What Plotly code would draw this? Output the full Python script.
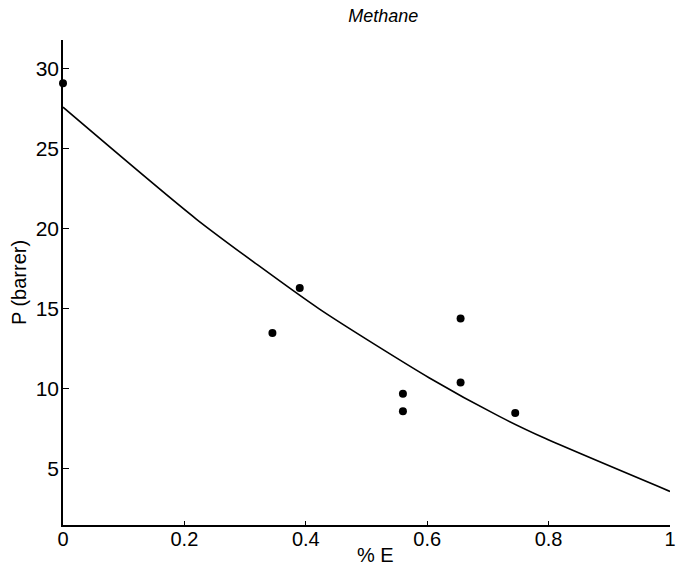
import plotly.graph_objects as go

# Measured data points (% E, P in barrer)
pts_x = [0.0, 0.345, 0.39, 0.56, 0.56, 0.655, 0.655, 0.745]
pts_y = [29.1, 13.5, 16.3, 9.7, 8.6, 14.4, 10.4, 8.5]

# Fitted curve
fit_x = [0.0, 0.22, 0.422, 0.603, 0.718, 0.795, 1.0]
fit_y = [27.6, 20.6, 15.0, 10.7, 8.3, 6.9, 3.6]

x_ticks = [0, 0.2, 0.4, 0.6, 0.8, 1]
x_tick_text = ["0", "0.2", "0.4", "0.6", "0.8", "1"]
y_ticks = [5, 10, 15, 20, 25, 30]

font_family = "Liberation Sans, Arial, sans-serif"

fig = go.Figure()
fig.add_trace(go.Scatter(x=fit_x, y=fit_y, mode="lines",
                         line=dict(color="black", width=1.6, shape="spline", smoothing=0.6),
                         showlegend=False, hoverinfo="skip"))
fig.add_trace(go.Scatter(x=pts_x, y=pts_y, mode="markers",
                         marker=dict(color="black", size=8),
                         cliponaxis=False, showlegend=False))

fig.update_layout(
    width=688, height=572,
    margin=dict(l=63, r=16, t=40, b=47),
    paper_bgcolor="white", plot_bgcolor="white",
    font=dict(family=font_family, color="black"),
    title=dict(text="Methane", x=0.557, xanchor="center", y=0.972, yanchor="middle",
               font=dict(size=18, style="italic", family=font_family)),
    annotations=[dict(text="% E", xref="paper", yref="paper", x=0.515, y=-0.062,
                      xanchor="center", yanchor="middle", showarrow=False,
                      font=dict(size=20))],
)
fig.update_xaxes(range=[0, 1], tickvals=x_ticks, ticktext=x_tick_text,
                 showgrid=False, zeroline=False, showline=True, linecolor="black", linewidth=1.5,
                 ticks="inside", ticklen=4, tickcolor="black",
                 tickfont=dict(size=20), ticklabelstandoff=-5)
fig.update_yaxes(range=[1.5, 31.8], tickvals=y_ticks,
                 showgrid=False, zeroline=False, showline=True, linecolor="black", linewidth=1.5,
                 ticks="inside", ticklen=6, tickcolor="black",
                 tickfont=dict(size=21), ticklabelstandoff=-2,
                 title=dict(text="P (barrer)", font=dict(size=20), standoff=4))

fig.write_html("out.html")
